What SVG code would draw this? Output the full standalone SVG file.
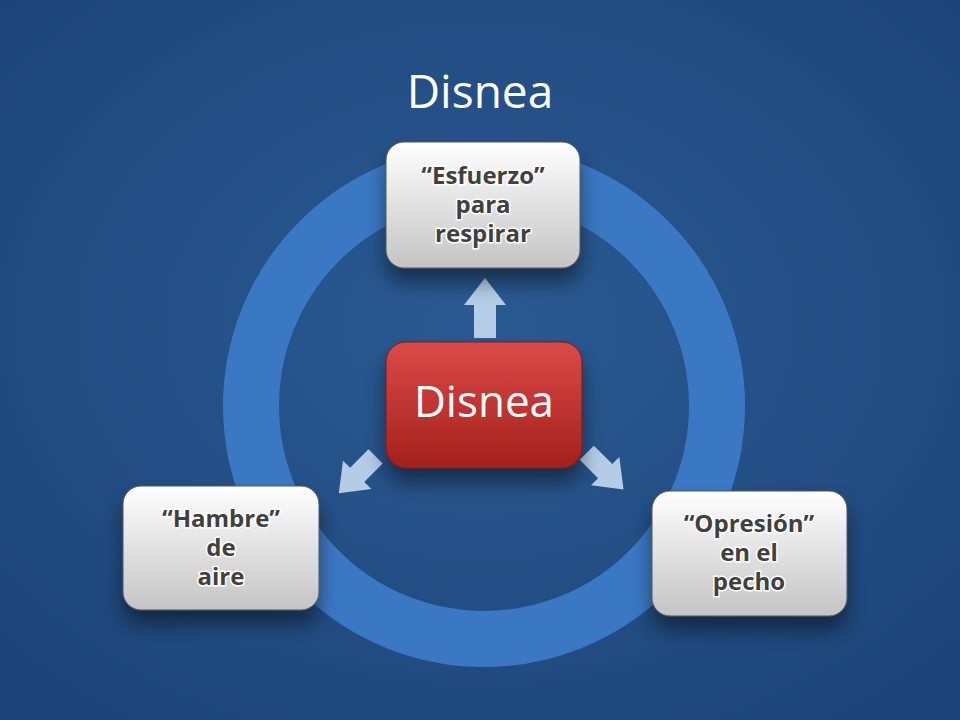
<svg xmlns="http://www.w3.org/2000/svg" width="960" height="720" viewBox="0 0 960 720">
<defs>
<radialGradient id="bg" cx="50%" cy="45%" r="70%"><stop offset="0" stop-color="#2a5a93"/><stop offset="1" stop-color="#1d4478"/></radialGradient>
<linearGradient id="gray" x1="0" y1="0" x2="0" y2="1"><stop offset="0" stop-color="#ffffff"/><stop offset="1" stop-color="#c4c4c4"/></linearGradient>
<linearGradient id="red" x1="0" y1="0" x2="0" y2="1"><stop offset="0" stop-color="#dc4a48"/><stop offset="1" stop-color="#a3201c"/></linearGradient>
<filter id="sh" x="-30%" y="-30%" width="160%" height="170%"><feDropShadow dx="0" dy="14" stdDeviation="10" flood-color="#000" flood-opacity="0.45"/></filter>
<style>
.box{fill:url(#gray);stroke:#555;stroke-width:1;filter:url(#sh)}
.t{font-family:"Open Sans","Liberation Sans",sans-serif;font-weight:bold;font-size:24px;fill:#404040;text-anchor:middle;stroke:#fff;stroke-width:3;paint-order:stroke}
.arr{fill:#c5d9f1;opacity:0.9}
</style>
</defs>
<rect width="960" height="720" fill="url(#bg)"/>
<text x="480" y="108" font-family="Open Sans,Liberation Sans,sans-serif" font-size="46" fill="#fff" text-anchor="middle">Disnea</text>
<circle cx="484" cy="406" r="233" fill="none" stroke="#3b78c4" stroke-width="56"/>
<g id="connectors">
<polygon class="arr" points="474,338 496,338 496,305 506,305 485,278 464,305 474,305"/>
<g transform="rotate(135 360 472)"><polygon class="arr" points="338,462 364,462 364,452 390,472 364,492 364,482 338,482"/></g>
<g transform="rotate(45 608 474)"><polygon class="arr" points="578,464 604,464 604,454 630,474 604,494 604,484 578,484"/></g>
</g>
<g id="top"><rect class="box" x="386" y="142" width="194" height="126" rx="18"/>
<text class="t" x="483" y="184">“Esfuerzo”</text><text class="t" x="483" y="213">para</text><text class="t" x="483" y="242">respirar</text></g>
<g id="left"><rect class="box" x="123" y="486" width="196" height="124" rx="18"/>
<text class="t" x="221" y="527">“Hambre”</text><text class="t" x="221" y="556">de</text><text class="t" x="221" y="585">aire</text></g>
<g id="right"><rect class="box" x="652" y="491" width="195" height="125" rx="18"/>
<text class="t" x="749" y="532">“Opresión”</text><text class="t" x="749" y="561">en el</text><text class="t" x="749" y="590">pecho</text></g>
<g id="center"><rect x="386" y="342" width="196" height="126" rx="20" fill="url(#red)" stroke="#7a1a18" filter="url(#sh)"/>
<text x="484" y="417" font-family="Open Sans,Liberation Sans,sans-serif" font-size="44" fill="#fff" text-anchor="middle">Disnea</text></g>
</svg>
